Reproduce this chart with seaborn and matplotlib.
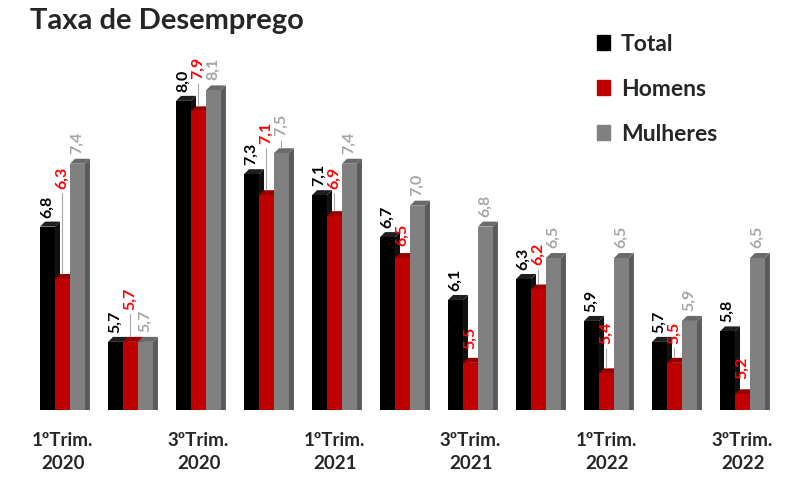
import pandas as pd
import matplotlib.pyplot as plt
import seaborn as sns
from matplotlib.patches import Polygon, Patch

# -------------------------
# Data
# -------------------------
quarters = ['1T20', '2T20', '3T20', '4T20', '1T21', '2T21',
            '3T21', '4T21', '1T22', '2T22', '3T22']
tick_labels = ['1ºTrim.\n2020', '', '3ºTrim.\n2020', '', '1ºTrim.\n2021', '',
               '3ºTrim.\n2021', '', '1ºTrim.\n2022', '', '3ºTrim.\n2022']
series = ['Total', 'Homens', 'Mulheres']
total = [6.8, 5.7, 8.0, 7.3, 7.1, 6.7, 6.1, 6.3, 5.9, 5.7, 5.8]
homens = [6.3, 5.7, 7.9, 7.1, 6.9, 6.5, 5.5, 6.2, 5.4, 5.5, 5.2]
mulheres = [7.4, 5.7, 8.1, 7.5, 7.4, 7.0, 6.8, 6.5, 6.5, 5.9, 6.5]

df = pd.DataFrame({
    'trimestre': quarters * 3,
    'serie': [s for s in series for _ in quarters],
    'valor': total + homens + mulheres,
})

# -------------------------
# Style
# -------------------------
front = {'Total': '#000000', 'Homens': '#C00000', 'Mulheres': '#808080'}
side = {'Total': '#111111', 'Homens': '#8B0000', 'Mulheres': '#5A5A5A'}
top = {'Total': '#1E1E1E', 'Homens': '#9A0000', 'Mulheres': '#6A6A6A'}
label_col = {'Total': '#000000', 'Homens': '#FF0000', 'Mulheres': '#A6A6A6'}
# label offsets above the bar (pixels), leader line when large
label_lift = {
    'Total': [4] * 11,
    'Homens': [85, 27, 27, 46, 22, 7, 9, 19, 24, 14, 10],
    'Mulheres': [5, 5, 5, 12, 5, 5, 5, 5, 5, 5, 5],
}

sns.set_style('white')
plt.rcParams['font.family'] = ['Lato', 'DejaVu Sans']

fig = plt.figure(figsize=(7.89, 4.78), dpi=100)
ax = fig.add_axes([28.5 / 789, 68 / 478, 748 / 789, 382.5 / 478])

sns.barplot(data=df, x='trimestre', y='valor', hue='serie', hue_order=series,
            palette=front, width=0.66, saturation=1, legend=False, ax=ax)

ymin, ymax = 5.05, 8.7
ax.set_ylim(ymin, ymax)
ax.set_xlim(-0.5, 10.5)
dx, dy = 5 / 68, 5 / 104.8

for i, (name, cont) in enumerate(zip(series, ax.containers)):
    for j, bar in enumerate(cont):
        x0 = bar.get_x()
        x1 = x0 + bar.get_width()
        h = bar.get_height()
        bar.set_zorder(2 + i)
        bar.set_linewidth(0)
        ax.add_patch(Polygon([(x1, ymin), (x1 + dx, ymin), (x1 + dx, h + dy), (x1, h)],
                             closed=True, color=side[name], zorder=1.5 + i, lw=0))
        ax.add_patch(Polygon([(x0, h), (x0 + dx, h + dy), (x1 + dx, h + dy), (x1, h)],
                             closed=True, color=top[name], zorder=1.5 + i, lw=0))
        lift = label_lift[name][j]
        arrow = None
        if lift > 11:
            arrow = dict(arrowstyle='-', color='#A6A6A6', lw=0.8, shrinkA=1, shrinkB=0)
        ax.annotate(f'{h:.1f}'.replace('.', ','), xy=((x0 + x1) / 2, h + dy),
                    xytext=(0, lift), textcoords='offset pixels',
                    rotation=90, ha='center', va='bottom', fontsize=11.5,
                    fontweight='bold', color=label_col[name],
                    arrowprops=arrow, zorder=10)

ax.set_xticks(range(len(quarters)))
ax.set_xticklabels(tick_labels, fontsize=13.5, fontweight='bold', linespacing=1.4)
ax.tick_params(axis='x', length=0, pad=16)
ax.set_yticks([])
ax.set_xlabel('')
ax.set_ylabel('')
sns.despine(ax=ax, left=True, bottom=True)

fig.text(30 / 789, 1 - 21 / 478, 'Taxa de Desemprego', fontsize=21,
         fontweight='bold', va='center', ha='left')

handles = [Patch(color=front[s], label=s) for s in series]
fig.legend(handles=handles, loc='upper left', bbox_to_anchor=(576 / 789, 1 - 13 / 478),
           frameon=False, prop={'weight': 'bold', 'size': 16.5}, handlelength=0.6,
           handleheight=0.6, handletextpad=0.45, labelspacing=1.05)

fig.savefig('out.png', dpi=100)
